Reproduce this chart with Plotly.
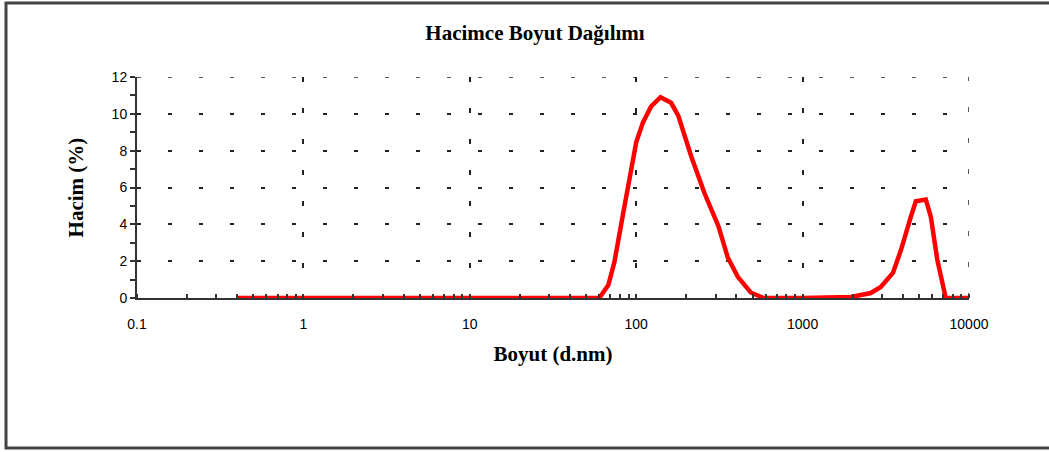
import plotly.graph_objects as go

size_nm = [0.4, 1, 10, 40, 60, 68, 74, 83.5, 90.7, 100, 110, 123, 140, 162, 179, 214, 257, 312, 355, 408, 488, 583,
           1000, 1950, 2570, 2950, 3490, 3900, 4470, 4790, 5500, 5900, 6450, 7250, 10000]
volume_pct = [0, 0, 0, 0, 0, 0.7, 1.96, 4.6, 6.4, 8.45, 9.55, 10.4, 10.9, 10.6, 9.9, 7.7, 5.7, 3.9, 2.2, 1.15, 0.3, 0,
              0, 0.05, 0.27, 0.6, 1.36, 2.6, 4.4, 5.25, 5.35, 4.4, 2.07, 0, 0]

x_tickvals = [0.1, 1, 10, 100, 1000, 10000]
x_ticktext = ["0.1", "1", "10", "100", "1000", "10000"]
y_tickvals = [0, 2, 4, 6, 8, 10, 12]

title_text = "Hacimce Boyut Dağılımı"
x_title = "Boyut (d.nm)"
y_title = "Hacim (%)"

W, H = 1049, 452
L, R, T, B = 137, 80, 77, 154

fig = go.Figure()
fig.add_trace(go.Scatter(x=size_nm, y=volume_pct, mode="lines",
                         line=dict(color="#ff0000", width=4.5), hoverinfo="skip"))

serif = "Liberation Serif, Times New Roman, serif"
sans = "Liberation Sans, Arial, sans-serif"
grid_color = "#222222"

fig.update_layout(
    width=W, height=H,
    margin=dict(l=L, r=R, t=T, b=B),
    paper_bgcolor="white", plot_bgcolor="white",
    showlegend=False,
    title=dict(text="<b>" + title_text + "</b>", x=535 / W, xref="container", xanchor="center",
               y=1 - 33 / H, yref="container", yanchor="middle",
               font=dict(family=serif, size=21, color="black")),
    xaxis=dict(type="log", range=[-1, 4], tickvals=x_tickvals, ticktext=x_ticktext,
               showline=True, linecolor="#333333", linewidth=2,
               ticks="", tickfont=dict(family=sans, size=14, color="black"),
               ticklabelstandoff=12,
               showgrid=True, gridcolor=grid_color, gridwidth=1.5, griddash="5px,26px",
               zeroline=False,
               minor=dict(ticks="inside", ticklen=4, tickcolor="#333333", tickwidth=1.5,
                          dtick="D1", showgrid=False),
               title=dict(text="<b>" + x_title + "</b>", standoff=16,
                          font=dict(family=serif, size=21, color="black"))),
    yaxis=dict(range=[0, 12], tickvals=y_tickvals,
               showline=True, linecolor="#333333", linewidth=2,
               ticks="outside", ticklen=5, tickwidth=1.5, tickcolor="#333333",
               tickfont=dict(family=sans, size=14, color="black"),
               showgrid=True, gridcolor=grid_color, gridwidth=1.5, griddash="4px,27px",
               zeroline=False,
               minor=dict(ticks="outside", ticklen=5, tickcolor="#333333", tickwidth=1.5,
                          dtick=1, showgrid=False),
               title=dict(text="<b>" + y_title + "</b>", standoff=22,
                          font=dict(family=serif, size=21, color="black"))),
)

# edge gridlines (top at max y tick, right at max x tick), which plotly omits at range edges
fig.add_shape(type="line", xref="x", yref="y", x0=x_tickvals[0], x1=x_tickvals[-1],
              y0=y_tickvals[-1], y1=y_tickvals[-1],
              line=dict(color=grid_color, width=1.5, dash="4px,27px"), layer="below")
fig.add_shape(type="line", xref="x", yref="y", x0=x_tickvals[-1], x1=x_tickvals[-1],
              y0=y_tickvals[0], y1=y_tickvals[-1],
              line=dict(color=grid_color, width=1.5, dash="5px,26px"), layer="below")

pw, ph = W - L - R, H - T - B
def px_x(p):
    return (p - L) / pw
def px_y(p):
    return (H - B - p) / ph

fig.add_shape(type="rect", xref="paper", yref="paper",
              x0=px_x(6), x1=px_x(W + 10), y0=px_y(448), y1=px_y(3),
              line=dict(color="#444444", width=3), fillcolor="rgba(0,0,0,0)", layer="below")

fig.write_html("out.html")
